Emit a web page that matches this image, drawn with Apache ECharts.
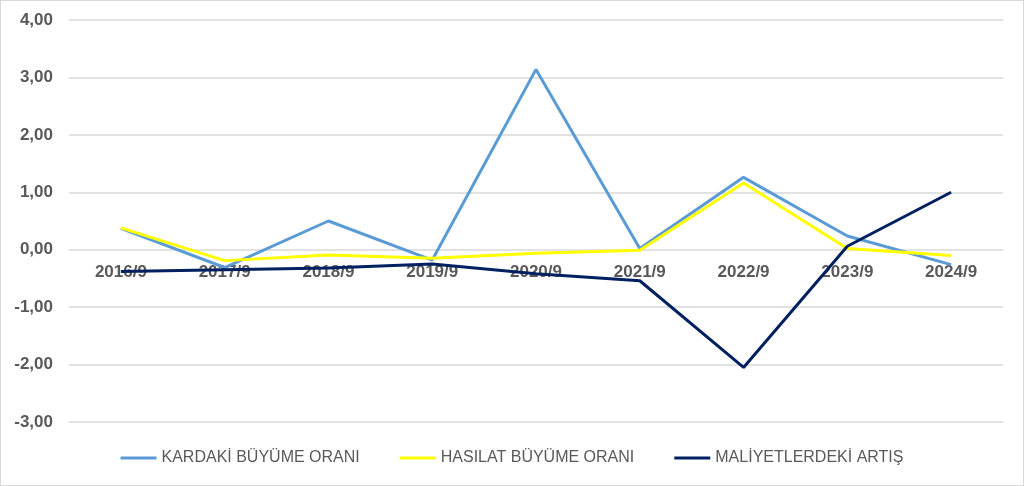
<!DOCTYPE html>
<html><head><meta charset="utf-8">
<script src="https://cdn.jsdelivr.net/npm/echarts@6/dist/echarts.min.js"></script>
<style>
html,body{margin:0;padding:0;background:#fff;}
#wrap{position:absolute;left:0;top:0;width:1022px;height:484px;border:1px solid #d9d9d9;}
#c{width:1022px;height:484px;}
</style></head>
<body><div id="wrap"><div id="c"></div></div>
<script>
const categories = ['2016/9','2017/9','2018/9','2019/9','2020/9','2021/9','2022/9','2023/9','2024/9'];
const kardaki = [0.37, -0.31, 0.50, -0.18, 3.14, 0.02, 1.26, 0.24, -0.26];
const hasilat = [0.38, -0.19, -0.09, -0.15, -0.06, -0.01, 1.16, 0.02, -0.10];
const maliyet = [-0.38, -0.35, -0.32, -0.25, -0.42, -0.54, -2.05, 0.06, 1.00];
const seriesNames = ['KARDAKİ BÜYÜME ORANI','HASILAT BÜYÜME ORANI','MALİYETLERDEKİ ARTIŞ'];
const yMin = -3, yMax = 4;

const font = "'Liberation Sans Narrow', 'Liberation Sans', Arial, sans-serif";
const gridTop = 19, gridBottom = 63, H = 484;
const plotH = H - gridTop - gridBottom;
// move the category axis up to the zero line (Excel: axis crosses at 0)
const zeroOffset = -plotH * (0 - yMin) / (yMax - yMin);

const chart = echarts.init(document.getElementById('c'), null, {renderer:'canvas'});
const mk = (name, data, color) => ({
  name, type:'line', data, symbol:'none', smooth:false,
  lineStyle:{color, width:3}, itemStyle:{color}
});
chart.setOption({
  animation:false,
  grid:{left:68, right:20, top:gridTop, bottom:gridBottom},
  legend:{
    bottom:14, left:'center', itemWidth:36, itemHeight:3, itemGap:40,
    icon:'rect',
    textStyle:{color:'#595959', fontSize:16, fontFamily:font},
    data:seriesNames
  },
  xAxis:{
    type:'category', data:categories, boundaryGap:true,
    offset: zeroOffset,
    axisLine:{show:false},
    axisTick:{show:false},
    axisLabel:{color:'#595959', fontSize:17, fontWeight:'bold', fontFamily:font, margin:14}
  },
  yAxis:{
    type:'value', min:yMin, max:yMax, interval:1,
    axisLine:{show:false}, axisTick:{show:false},
    splitLine:{lineStyle:{color:'#d9d9d9', width:1.5}},
    axisLabel:{color:'#595959', fontSize:17, fontWeight:'bold', fontFamily:font, margin:16,
      formatter:v=>v.toFixed(2).replace('.',',')}
  },
  series:[
    mk(seriesNames[0], kardaki, '#5B9BD5'),
    mk(seriesNames[1], hasilat, '#FFFF00'),
    mk(seriesNames[2], maliyet, '#002060')
  ]
});
</script></body></html>
